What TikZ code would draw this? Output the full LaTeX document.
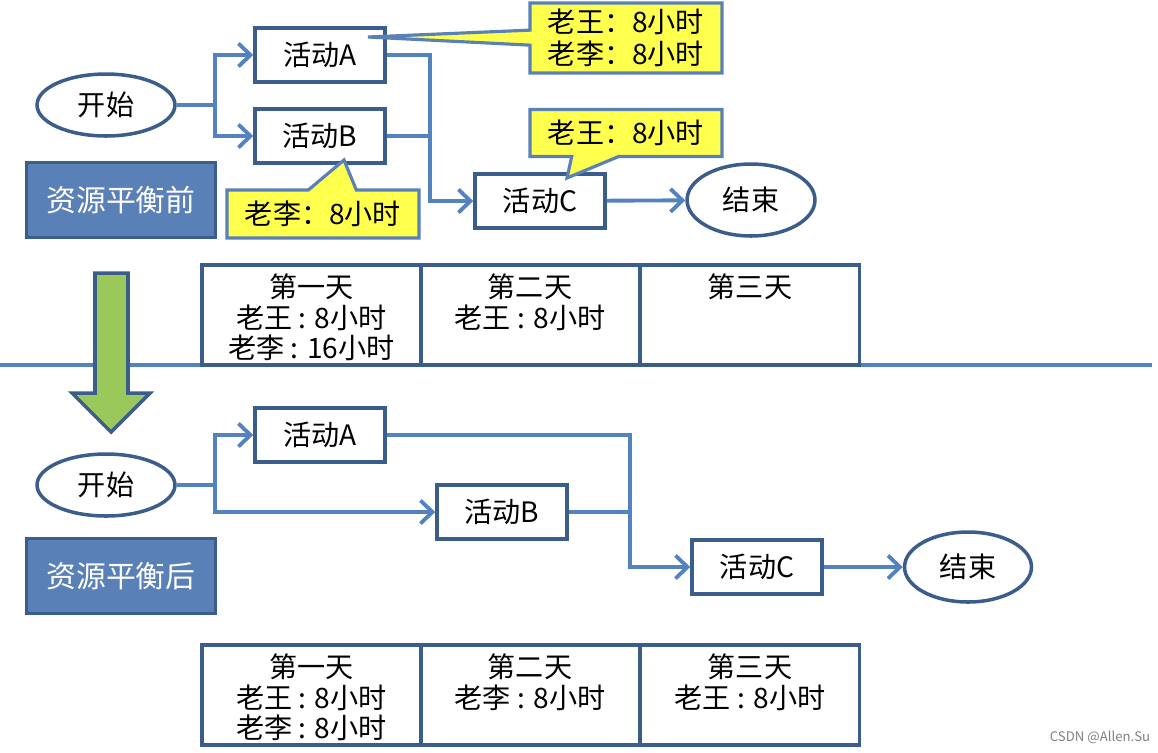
\documentclass[tikz,border=0pt]{standalone}
\usepackage{fontspec}
\setmainfont{Noto Sans CJK SC}
\usepackage{tikz}
\usetikzlibrary{shapes, shapes.callouts, arrows.meta, positioning}
\definecolor{boxblue}{HTML}{3B5D8C}
\definecolor{lineblue}{HTML}{5282C0}
\definecolor{tagblue}{HTML}{5A80B8}
\definecolor{noteyellow}{HTML}{FFFF4D}
\definecolor{arrowgreen}{HTML}{9BC85A}
\tikzstyle{act} = [draw=boxblue, line width=2pt, rectangle,
    minimum width=2.6cm, minimum height=1.08cm, inner sep=0pt]
\tikzstyle{term} = [draw=boxblue, line width=2pt, ellipse, inner sep=0pt]
\tikzstyle{tag} = [draw=boxblue, fill=tagblue, line width=2pt, rectangle,
    minimum width=3.78cm, minimum height=1.5cm, text=white, font=\fontsize{17}{20}\selectfont]
\tikzstyle{note} = [draw=tagblue, fill=noteyellow, line width=1.8pt, rectangle callout,
    minimum width=3.84cm, inner sep=0pt, align=center]
\tikzstyle{cell} = [draw=boxblue, line width=2pt, rectangle,
    minimum width=4.38cm, minimum height=2cm]
\tikzstyle{celltext} = [anchor=north, align=center, inner sep=0pt, font=\fontsize{16}{17.6}\selectfont]
\tikzstyle{link} = [draw=lineblue, line width=2.2pt]
\tikzstyle{flow} = [link, -{Straight Barb[length=2.4mm, width=4.6mm]}]

\begin{document}
\begin{tikzpicture}[x=0.02cm, y=-0.02cm, font=\fontsize{16}{18}\selectfont]
        \useasboundingbox (0,0) rectangle (1158,752);

        \node[term, minimum width=2.76cm, minimum height=1.24cm] (start1) at (106,105) {开始};
        \node[act] (actA1) at (320,55) {活动A};
        \node[act] (actB1) at (320,136) {活动B};
        \node[act] (actC1) at (540,201) {活动C};
        \node[term, minimum width=2.56cm, minimum height=1.44cm] (end1) at (751,200) {结束};
        \node[tag] (before) at (121,200) {资源平衡前};

        \coordinate (fork1) at (215,105);
        \coordinate (merge1) at (430,136);
        \draw[link] (start1.east) -- (fork1);
        \draw[flow] (fork1) |- (actA1.west);
        \draw[flow] (fork1) |- (actB1.west);
        \draw[flow] (actA1.east) -| (merge1) |- (actC1.west);
        \draw[link] (actB1.east) -- (merge1);
        \draw[flow] (actC1) -- (end1);

        \coordinate (pA) at (368,37);
        \coordinate (pB) at (344,160);
        \coordinate (pC) at (567,178);
        \node[note, minimum height=1.4cm, callout absolute pointer={(pA)}, callout pointer width=0.3cm,
            font=\fontsize{16}{18}\selectfont] (noteA) at (626,38) {老王：8小时\\老李：8小时};
        \node[note, minimum height=0.96cm, callout absolute pointer={(pB)}, callout pointer width=0.96cm]
            (noteB) at (323,214) {老李：8小时};
        \node[note, minimum height=0.94cm, callout absolute pointer={(pC)}, callout pointer width=0.94cm]
            (noteC) at (626,133) {老王：8小时};

        \coordinate (sepL) at (0,365);
        \coordinate (sepR) at (1152,365);
        \draw[link, line width=1.8pt] (sepL) -- (sepR);

        \node[cell] (day1a) at (311.5,315) {};
        \node[cell] (day2a) at (530,315) {};
        \node[cell] (day3a) at (750,315) {};
        \node[celltext] (txt1a) at (311.5,273) {第一天\\老王 : 8小时\\老李 : 16小时};
        \node[celltext] (txt2a) at (530,273) {第二天\\老王 : 8小时};
        \node[celltext] (txt3a) at (750,273) {第三天};

        \draw[draw=boxblue, fill=arrowgreen, line width=2pt] (95,273) -- (128,273) -- (128,393)
            -- (150,393) -- (111,432) -- (72,393) -- (95,393) -- cycle;

        \node[term, minimum width=2.76cm, minimum height=1.24cm] (start2) at (106,485) {开始};
        \node[act] (actA2) at (320,435) {活动A};
        \node[act] (actB2) at (502,512) {活动B};
        \node[act] (actC2) at (757,567) {活动C};
        \node[term, minimum width=2.54cm, minimum height=1.4cm] (end2) at (968,567) {结束};
        \node[tag] (after) at (121,576) {资源平衡后};

        \coordinate (fork2) at (215,485);
        \coordinate (merge2) at (630,512);
        \draw[link] (start2.east) -- (fork2);
        \draw[flow] (fork2) |- (actA2.west);
        \draw[flow] (fork2) |- (actB2.west);
        \draw[flow] (actA2.east) -| (merge2) |- (actC2.west);
        \draw[link] (actB2.east) -- (merge2);
        \draw[flow] (actC2) -- (end2);

        \node[cell] (day1b) at (311.5,695) {};
        \node[cell] (day2b) at (530,695) {};
        \node[cell] (day3b) at (750,695) {};
        \node[celltext] (txt1b) at (311.5,653) {第一天\\老王 : 8小时\\老李 : 8小时};
        \node[celltext] (txt2b) at (530,653) {第二天\\老李 : 8小时};
        \node[celltext] (txt3b) at (750,653) {第三天\\老王 : 8小时};

        \node[text=gray, font=\fontsize{7.5}{9}\selectfont] (mark) at (1100,737) {CSDN @Allen.Su};
\end{tikzpicture}
\end{document}
